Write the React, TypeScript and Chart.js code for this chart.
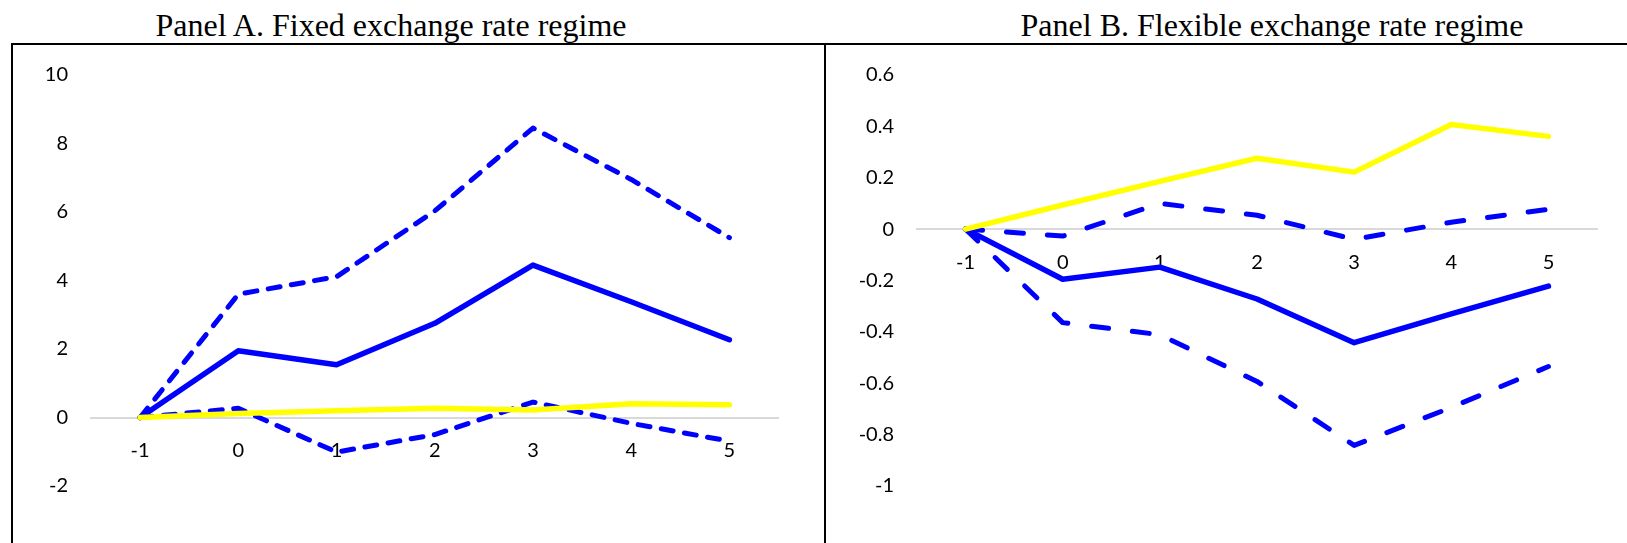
import React, { useEffect, useRef } from 'react';
import { Chart, registerables } from 'chart.js';

Chart.register(...registerables);

// Horizon (years relative to the event)
const horizons = ['-1', '0', '1', '2', '3', '4', '5'];

// Panel A. Fixed exchange rate regime
const fixedEstimate = [0, 1.95, 1.54, 2.75, 4.45, 3.38, 2.27];
const fixedUpper = [0, 3.6, 4.11, 6.03, 8.45, 6.95, 5.25];
const fixedLower = [0, 0.27, -1.01, -0.5, 0.45, -0.17, -0.69];
const fixedYellow = [0, 0.12, 0.2, 0.27, 0.22, 0.4, 0.37];
const fixedTicks = [-2, 0, 2, 4, 6, 8, 10];

// Panel B. Flexible exchange rate regime
const flexEstimate = [0, -0.195, -0.148, -0.272, -0.442, -0.33, -0.222];
const flexUpper = [0, -0.027, 0.1, 0.054, -0.04, 0.027, 0.077];
const flexLower = [0, -0.364, -0.411, -0.593, -0.842, -0.694, -0.535];
const flexYellow = [0, 0.094, 0.186, 0.276, 0.222, 0.407, 0.361];
const flexTicks = [-1, -0.8, -0.6, -0.4, -0.2, 0, 0.2, 0.4, 0.6];

const BLUE = '#0000FF';
const YELLOW = '#FFFF00';
const TICK_FONT = { family: 'Lato', size: 20 };

const CANVAS_TOP = 40;
const CANVAS_HEIGHT = 503;

type PanelSpec = {
  estimate: number[];
  upper: number[];
  lower: number[];
  yellow: number[];
  ticks: number[];
  dash: number[];
  axisWidth: number;
  padRight: number;
};

function makeConfig(p: PanelSpec): any {
  const min = Math.min(...p.ticks);
  const max = Math.max(...p.ticks);
  const step = p.ticks[1] - p.ticks[0];
  return {
    type: 'line',
    data: {
      labels: horizons,
      datasets: [
        { data: p.yellow, borderColor: YELLOW, borderWidth: 5.5, order: 0 },
        { data: p.estimate, borderColor: BLUE, borderWidth: 5.5, order: 1 },
        { data: p.upper, borderColor: BLUE, borderWidth: 5, borderDash: p.dash, order: 2 },
        { data: p.lower, borderColor: BLUE, borderWidth: 5, borderDash: p.dash, order: 3 },
      ],
    },
    options: {
      responsive: false,
      animation: false,
      devicePixelRatio: 1,
      layout: { padding: { top: 35, right: p.padRight, bottom: 57, left: 0 } },
      plugins: {
        legend: { display: false },
        tooltip: { enabled: false },
        title: { display: false },
      },
      elements: {
        point: { radius: 0, hoverRadius: 0 },
        line: {
          borderCapStyle: 'round',
          borderJoinStyle: 'round',
          tension: 0,
          fill: false,
        },
      },
      scales: {
        x: {
          type: 'category',
          offset: true,
          position: { y: 0 },
          grid: { display: false, drawTicks: false },
          border: { display: true, color: '#D9D9D9', width: 2 },
          ticks: {
            padding: 21,
            color: '#000',
            font: TICK_FONT,
            maxRotation: 0,
            autoSkip: false,
          },
        },
        y: {
          type: 'linear',
          position: 'left',
          min,
          max,
          grid: { display: false, drawTicks: false },
          border: { display: false },
          ticks: {
            stepSize: step,
            padding: 23,
            color: '#000',
            font: TICK_FONT,
            callback: (v: number) => String(Math.round(v * 10) / 10),
          },
          afterFit: (s: any) => {
            s.width = p.axisWidth;
          },
        },
      },
    },
  };
}

function Panel({ spec, left, width }: { spec: PanelSpec; left: number; width: number }) {
  const ref = useRef<HTMLCanvasElement>(null);
  useEffect(() => {
    if (!ref.current) return;
    const chart = new Chart(ref.current, makeConfig(spec));
    return () => chart.destroy();
  }, []);
  return (
    <canvas
      ref={ref}
      width={width}
      height={CANVAS_HEIGHT}
      style={{ position: 'absolute', left, top: CANVAS_TOP, width, height: CANVAS_HEIGHT }}
    />
  );
}

const titleStyle: React.CSSProperties = {
  position: 'absolute',
  top: 8.5,
  fontFamily: '"Liberation Serif", "Times New Roman", serif',
  fontSize: 32,
  lineHeight: 1,
  color: '#000',
  whiteSpace: 'nowrap',
  transform: 'translateX(-50%)',
};

export default function App() {
  const panelA: PanelSpec = {
    estimate: fixedEstimate,
    upper: fixedUpper,
    lower: fixedLower,
    yellow: fixedYellow,
    ticks: fixedTicks,
    dash: [12, 11.5],
    axisWidth: 78,
    padRight: 45.5,
  };
  const panelB: PanelSpec = {
    estimate: flexEstimate,
    upper: flexUpper,
    lower: flexLower,
    yellow: flexYellow,
    ticks: flexTicks,
    dash: [17, 24],
    axisWidth: 91,
    padRight: 30,
  };
  return (
    <div
      style={{
        position: 'absolute',
        left: 0,
        top: 0,
        width: 1627,
        height: 543,
        overflow: 'hidden',
        background: '#fff',
      }}
    >
      <div style={{ ...titleStyle, left: 391 }}>Panel A. Fixed exchange rate regime</div>
      <div style={{ ...titleStyle, left: 1272 }}>Panel B. Flexible exchange rate regime</div>
      <div style={{ position: 'absolute', left: 11, top: 43, width: 1616, height: 2, background: '#000' }} />
      <div style={{ position: 'absolute', left: 11, top: 43, width: 2, height: 500, background: '#000' }} />
      <div style={{ position: 'absolute', left: 824, top: 43, width: 2, height: 500, background: '#000' }} />
      <Panel spec={panelA} left={13} width={811} />
      <Panel spec={panelB} left={826} width={801} />
    </div>
  );
}
